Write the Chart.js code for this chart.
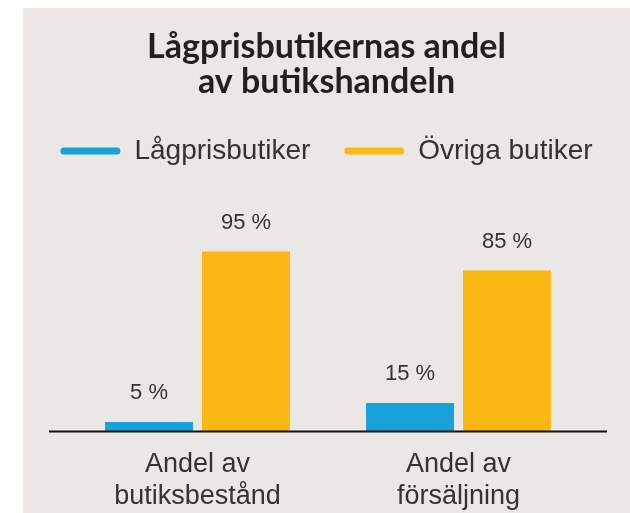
<!DOCTYPE html>
<html>
<head>
<meta charset="utf-8">
<script src="https://cdn.jsdelivr.net/npm/chart.js@4"></script>
<style>
  html, body { margin: 0; padding: 0; background: #ffffff; }
  #panel { position: absolute; left: 23px; top: 8px; width: 607px; height: 505px; background: #ebe7e4; }
  #panel canvas { display: block; }
</style>
</head>
<body>
<div id="panel"><canvas id="c" width="607" height="505"></canvas></div>
<script>
const titleLines = ["Lågprisbutikernas andel", "av butikshandeln"];
const categories = [["Andel av", "butiksbestånd"], ["Andel av", "försäljning"]];
const seriesNames = ["Lågprisbutiker", "Övriga butiker"];
const lowPriceValues = [5, 15];
const otherValues = [95, 85];
const seriesColors = ["#17a2dc", "#fbb714"];

const FONT = '"Liberation Sans", Arial, sans-serif';
const FONT_TITLE = 'Lato, "Liberation Sans", sans-serif';

const valueLabels = {
  id: 'valueLabels',
  afterDatasetsDraw(chart) {
    const ctx = chart.ctx;
    ctx.save();
    ctx.font = '22px ' + FONT;
    ctx.fillStyle = '#333333';
    ctx.textAlign = 'center';
    ctx.textBaseline = 'middle';
    chart.data.datasets.forEach((ds, di) => {
      chart.getDatasetMeta(di).data.forEach((bar, i) => {
        ctx.fillText(ds.data[i] + ' %', bar.x, bar.y - 29);
      });
    });
    ctx.restore();
  }
};

const baseLine = {
  id: 'baseLine',
  afterDatasetsDraw(chart) {
    const ctx = chart.ctx;
    const area = chart.chartArea;
    const y = chart.scales.y.getPixelForValue(0);
    ctx.save();
    ctx.strokeStyle = '#111111';
    ctx.lineWidth = 2;
    ctx.beginPath();
    ctx.moveTo(area.left - 18, y);
    ctx.lineTo(area.right + 18, y);
    ctx.stroke();
    ctx.restore();
  }
};

new Chart(document.getElementById('c'), {
  type: 'bar',
  data: {
    labels: categories,
    datasets: [
      { label: seriesNames[0], data: lowPriceValues, backgroundColor: seriesColors[0], yAxisID: 'y' },
      { label: seriesNames[1], data: otherValues, backgroundColor: seriesColors[1], yAxisID: 'y' }
    ]
  },
  options: {
    responsive: false,
    animation: false,
    events: [],
    layout: { padding: 0 },
    datasets: { bar: { categoryPercentage: 0.743, barPercentage: 0.907 } },
    plugins: {
      title: {
        display: true,
        text: titleLines,
        color: '#231f20',
        font: { family: FONT_TITLE, size: 34, weight: 'bold', lineHeight: '35px' },
        padding: { top: 22, bottom: 3 }
      },
      legend: {
        display: true,
        position: 'top',
        align: 'center',
        labels: {
          color: '#333333',
          font: { family: FONT, size: 28 },
          boxWidth: 60,
          boxHeight: 7,
          useBorderRadius: true,
          borderRadius: 3.5,
          padding: 34
        }
      },
      tooltip: { enabled: false }
    },
    scales: {
      x: {
        grid: { display: false, drawTicks: false },
        border: { display: false },
        ticks: {
          color: '#333333',
          font: { family: FONT, size: 27, lineHeight: '32px' },
          padding: 17.5,
          maxRotation: 0
        },
        afterFit(scale) { scale.height = 81.5; }
      },
      y: {
        display: true,
        position: 'left',
        min: 0,
        max: 135.4,
        grid: { display: false, drawTicks: false },
        border: { display: false },
        ticks: { display: false },
        afterFit(scale) { scale.width = 44; }
      },
      yRight: {
        display: true,
        position: 'right',
        min: 0,
        max: 135.4,
        grid: { display: false, drawTicks: false },
        border: { display: false },
        ticks: { display: false },
        afterFit(scale) { scale.width = 41; }
      }
    }
  },
  plugins: [valueLabels, baseLine]
});
</script>
</body>
</html>
